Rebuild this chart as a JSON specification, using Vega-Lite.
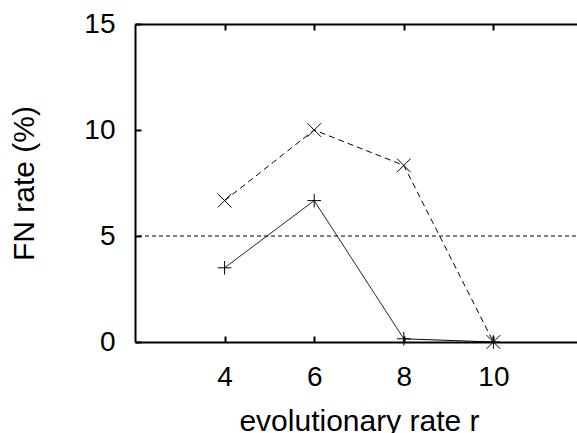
{
  "$schema": "https://vega.github.io/schema/vega-lite/v6.json",
  "autosize": {"type": "none"},
  "padding": {"left": 135, "top": 24, "right": 0, "bottom": 91},
  "width": 448,
  "height": 318,
  "background": "white",
  "config": {
    "view": {"stroke": null},
    "font": "Liberation Sans",
    "axis": {
      "domainColor": "black",
      "domainWidth": 2,
      "tickColor": "black",
      "tickWidth": 2,
      "tickSize": -6,
      "grid": false,
      "labelFont": "Liberation Sans",
      "labelFontSize": 28,
      "labelColor": "black",
      "titleFont": "Liberation Sans",
      "titleFontSize": 30,
      "titleFontWeight": "normal",
      "titleColor": "black"
    }
  },
  "datasets": {
    "fn": [
      {"r": 4, "rate": 3.5, "series": "solid"},
      {"r": 6, "rate": 6.67, "series": "solid"},
      {"r": 8, "rate": 0.15, "series": "solid"},
      {"r": 10, "rate": 0, "series": "solid"},
      {"r": 4, "rate": 6.67, "series": "dashed"},
      {"r": 6, "rate": 10, "series": "dashed"},
      {"r": 8, "rate": 8.33, "series": "dashed"},
      {"r": 10, "rate": 0, "series": "dashed"}
    ],
    "threshold": [{"rate": 5}]
  },
  "layer": [
    {
      "data": {"name": "threshold"},
      "mark": {"type": "rule", "color": "black", "strokeWidth": 1, "strokeDash": [4, 3]},
      "encoding": {
        "y": {"field": "rate", "type": "quantitative", "scale": {"domain": [0, 15]}}
      }
    },
    {
      "data": {"name": "fn"},
      "mark": {"type": "line", "color": "black", "strokeWidth": 1},
      "encoding": {
        "x": {
          "field": "r",
          "type": "quantitative",
          "scale": {"domain": [2, 12], "nice": false},
          "axis": {
            "values": [4, 6, 8, 10],
            "title": "evolutionary rate r",
            "labelBaseline": "alphabetic",
            "labelPadding": 49,
            "titleBaseline": "alphabetic",
            "titleY": 88
          }
        },
        "y": {
          "field": "rate",
          "type": "quantitative",
          "scale": {"domain": [0, 15], "nice": false},
          "axis": {
            "values": [0, 5, 10, 15],
            "title": "FN rate (%)",
            "labelPadding": 26,
            "titleBaseline": "alphabetic",
            "titleX": -102
          }
        },
        "detail": {"field": "series"},
        "strokeDash": {
          "field": "series",
          "type": "nominal",
          "scale": {"domain": ["solid", "dashed"], "range": [[1, 0], [6, 4]]},
          "legend": null
        }
      }
    },
    {
      "data": {"name": "fn"},
      "mark": {"type": "point", "color": "black", "filled": false, "strokeWidth": 1, "size": 185, "opacity": 1},
      "encoding": {
        "x": {"field": "r", "type": "quantitative", "axis": null},
        "y": {"field": "rate", "type": "quantitative"},
        "shape": {
          "field": "series",
          "type": "nominal",
          "scale": {"domain": ["solid", "dashed"], "range": ["M-1,0L1,0M0,-1L0,1", "M-1,-1L1,1M-1,1L1,-1"]},
          "legend": null
        }
      }
    },
    {
      "data": {"name": "threshold"},
      "mark": {"type": "rule", "opacity": 0},
      "encoding": {
        "x": {
          "field": "rate",
          "type": "quantitative",
          "axis": {"orient": "top", "values": [4, 6, 8, 10], "labels": false, "title": null}
        }
      }
    }
  ],
  "resolve": {"axis": {"x": "independent"}}
}
